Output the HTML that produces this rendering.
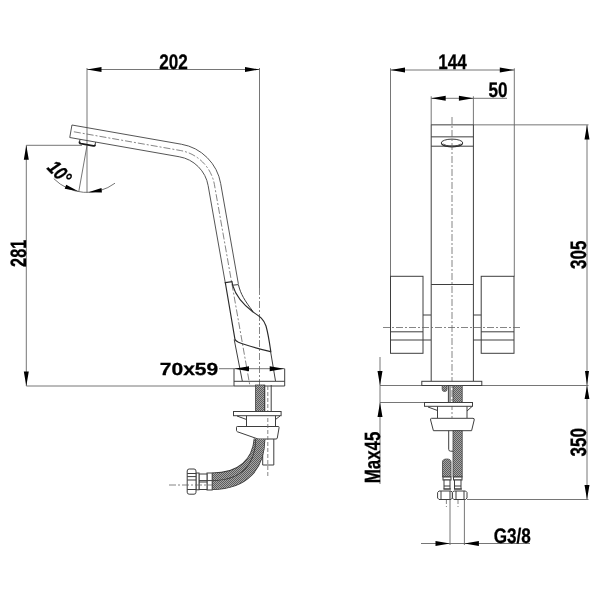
<!DOCTYPE html>
<html><head><meta charset="utf-8">
<style>
html,body{margin:0;padding:0;background:#fff;}
#wrap{width:600px;height:600px;will-change:transform;}
svg{display:block;}
text{font-family:"Liberation Sans",sans-serif;font-weight:bold;fill:#000;stroke:#000;stroke-width:0.3;text-rendering:geometricPrecision;}
.g{fill:none;stroke:#3e3e3e;stroke-width:1;}
.gw{fill:#fff;stroke:#3e3e3e;stroke-width:1;}
.k{fill:none;stroke:#2a2a2a;stroke-width:1.15;}
.d{fill:none;stroke:#666;stroke-width:0.9;}
.c{fill:none;stroke:#666;stroke-width:0.8;stroke-dasharray:7 2 2 2;}
.h{fill:none;stroke:#666;stroke-width:0.8;stroke-dasharray:4 2;}
.s{fill:none;stroke:#4c4c4c;stroke-width:.95;}
.a{fill:#000;stroke:none;}
</style></head><body>
<div id="wrap">
<svg width="600" height="600" viewBox="0 0 600 600">
<defs>
<pattern id="br" width="2" height="2" patternUnits="userSpaceOnUse">
<rect width="2" height="2" fill="#a6a6a6"/><rect width="1" height="1" fill="#5c5c5c"/><rect x="1" y="1" width="1" height="1" fill="#5c5c5c"/>
</pattern>
</defs>
<rect width="600" height="600" fill="#fff"/>

<!-- ================= LEFT: SIDE VIEW ================= -->
<g id="side">
<!-- dimension 202 -->
<path class="d" d="M87 69.5H259.5M87 68V145.5M259.5 68V288"/>
<path class="c" d="M259.5 288V386"/>
<path class="a" d="M87 69.5l14.5-2.5v5zM259.5 69.5l-14.5-2.5v5z"/>
<!-- dimension 281 -->
<path class="d" d="M26.3 145.3H82M26.3 145.3V386M26.3 386H234"/>
<path class="a" d="M26.3 145.3l-2.5 14.5h5zM26.3 386l-2.5-14.5h5z"/>
<!-- angle 10 -->
<path class="d" d="M87 145.5V193M87 145.5L78.7 192"/>
<path class="d" d="M53.8 178.7A47 47 0 0 0 115 183.2"/>
<path class="a" d="M78.3 191.2L66.2 184.7L64.7 188.8zM88.3 192.3L101.5 187.9L101.9 192.6z"/>

<!-- spout tube -->
<path class="s" d="M71.95 125.00 L181.44 144.24 A48.35 48.35 0 0 1 220.66 183.46 L238.37 283.90"/>
<path class="s" d="M69.75 137.50 L179.24 156.75 A35.65 35.65 0 0 1 208.15 185.66 L225.42 283.60"/>
<path class="s" d="M71.95 125L69.75 137.5"/>
<path class="c" d="M73.85 131.78 L180.34 150.49 A42.00 42.00 0 0 1 214.41 184.56 L249.76 385"/>
<!-- aerator -->
<path class="g" d="M80 139.3L79.5 142M95.6 142.1L95.1 144.8"/>
<path d="M79.5 141.6Q79.2 143.3 81 143.7L93.3 145.9Q95 146.2 95.2 144.6" fill="none" stroke="#1a1a1a" stroke-width="1.7"/>

<!-- body below handle -->
<path class="g" d="M234.2 339.5L242.3 381M270.5 351L275.5 381"/>
<!-- handle -->
<path class="g" d="M232.7 285.2L238.4 284.6C240.5 294 245 301 253 311.5"/>
<path class="k" d="M225.3 282.6L232 281.6L232.7 285.4C235.5 295 243 304.5 253 312C259 316 263.5 318.5 266 326C268.5 335 269.5 343 270.8 351.6C262 349.5 247 346 238.5 342.3C236.3 341.2 235.3 340.5 235 339.5Z"/>

<!-- base plate -->
<path class="g" d="M234 368.7V386H284.7V368.7M234 381.3H284.7"/>
<!-- dimension 70x59 -->
<path class="d" d="M219 368.7H284.7"/>
<path class="a" d="M234.5 368.7l14.5-2.5v5zM284.2 368.7l-14.5-2.5v5z"/>

<!-- threaded rod + tube under deck -->
<rect x="255.4" y="385" width="9.3" height="26.5" fill="url(#br)" stroke="#454545" stroke-width="0.8"/>
<path class="g" d="M264.7 385V411.5M271.2 385V411.5"/>
<path class="h" d="M267.8 386V411"/>
<!-- washer -->
<rect class="gw" x="233.5" y="411.5" width="47.6" height="4.2"/>
<path class="g" d="M237 416L246.5 419.5M246.5 415.7V426.5M275.5 415.7V426.5M280 416L275.5 419.5"/>
<!-- clamp -->
<path class="gw" d="M237.3 426.5H278.2Q279.3 426.5 279.1 427.6L277.3 438Q277.1 439 276 439H258L237.5 431.8Q236.5 431.4 236.5 430.3V427.3Q236.5 426.5 237.3 426.5Z"/>
<!-- rigid tube -->
<path class="g" d="M262.7 439V465H273.8V439"/>
<path class="h" d="M267.8 418V478"/>
<!-- braided hoses -->
<path d="M259 439C257 462 242 477.8 212.2 477.8" fill="none" stroke="#333" stroke-width="10.5"/>
<path d="M259 439C257 462 242 477.8 212.2 477.8" fill="none" stroke="url(#br)" stroke-width="9"/>
<path d="M260.4 439C260 466 245 485 212.2 485" fill="none" stroke="#333" stroke-width="10"/>
<path d="M260.4 439C260 466 245 485 212.2 485" fill="none" stroke="url(#br)" stroke-width="8.5"/>
<!-- ferrules / nuts -->
<rect class="gw" x="207" y="473" width="5.2" height="17"/>
<rect class="gw" x="199" y="474" width="8" height="15.5"/>
<rect class="gw" x="196" y="473" width="3" height="16.8"/>
<path class="g" d="M199 480.6H212.2M199 482H207"/>
<rect class="gw" x="187.2" y="469" width="8.8" height="25.2" rx="2"/>
<path class="g" d="M187.2 473.5H196M187.2 476.6H196M187.2 480H196M187.2 489.5H196"/>
<path class="c" d="M169 485H212"/>
</g>

<!-- ================= RIGHT: FRONT VIEW ================= -->
<g id="front">
<!-- dimension 144 -->
<path class="d" d="M390.5 70H514.3M390.5 68.3V276.5M514.3 68.3V276.5"/>
<path class="a" d="M390.5 70l14.5-2.5v5zM514.3 70l-14.5-2.5v5z"/>
<!-- dimension 50 -->
<path class="d" d="M431.2 98.3H507M431.2 96.3V125M473.4 96.3V125"/>
<path class="a" d="M431.2 98.3l14.5-2.5v5zM473.4 98.3l-14.5-2.5v5z"/>
<!-- dimension 305 / 350 -->
<path class="d" d="M473.4 124.85H588.5M587 125V385.5M380 385.5H588.5M587 385.5V499.5M467 499.5H588.5"/>
<path class="a" d="M587 125l-2.5 14.5h5zM587 385.5l-2-14.5h4zM587 385.5l-2.4 13.5h4.8zM587 499.5l-2.5-14.5h5z"/>
<!-- Max45 -->
<path class="d" d="M380 357V484M380 402.5H424.5"/>
<path class="a" d="M380 385.5l-2.5-14.5h5zM380 402.5l-2.5 14.5h5z"/>

<!-- body -->
<path class="g" d="M431.2 124.85V381M473.4 124.85V381M431.2 124.85H473.4M431.2 136.85H473.4M431.2 146.2H473.4M431.2 284.5H473.4"/>
<ellipse class="g" cx="452" cy="143" rx="10.8" ry="3.9"/>
<path class="k" d="M441.4 143.6A10.8 3.9 0 0 0 462.6 143.6"/><path class="g" d="M443.5 144A9 3 0 0 0 460.5 144"/>
<path class="c" d="M452 117V418"/>
<!-- handles -->
<rect class="g" x="390.5" y="276.3" width="32.5" height="77"/>
<rect class="g" x="481.2" y="276.3" width="32.8" height="77"/>
<path class="g" d="M390.5 331.8H423M390.5 340H431M423 315H431M481.2 331.8H514M473.2 340H514M473.2 315H481.2"/>
<path class="c" d="M383 327.5H522"/>
<!-- base plate -->
<rect class="gw" x="421.8" y="381.3" width="60" height="4.2"/>
<!-- under deck -->
<rect x="453" y="385.5" width="9.2" height="17" fill="url(#br)" stroke="#454545" stroke-width="0.8"/>
<path class="g" d="M448.4 385.5V402.5M450 385.5V402.5"/><path d="M442.2 385.5V389.3Q442.2 391.5 444.6 391.5Q447 391.5 447 389.3V385.5Z" fill="url(#br)" stroke="#454545" stroke-width="0.8"/>
<rect class="gw" x="424.5" y="402.5" width="48" height="3.8"/>
<path class="g" d="M428 407L437.5 410.5M437.5 406.3V418.3M467 406.3V418.3M472 406.5L467 411"/>
<path class="gw" d="M431.5 418.3H473Q474.6 418.3 474.2 420L471.6 430.7H433.4L430.6 420Q430.2 418.3 431.5 418.3Z"/>
<rect x="453" y="430.7" width="9.2" height="46.3" fill="url(#br)" stroke="#454545" stroke-width="0.8"/>
<path class="g" d="M448.7 430.7V449.3Q448.7 451.2 450.6 451.2H453"/>
<path d="M442.5 477V462Q442.5 459 446.8 459Q451 459 451 462V477Z" fill="url(#br)" stroke="#454545" stroke-width="0.8"/>
<!-- ferrules -->
<rect class="gw" x="443" y="477" width="8" height="3"/>
<rect class="gw" x="444" y="480" width="6" height="9"/>
<rect class="gw" x="453.5" y="477" width="8.5" height="3"/>
<rect class="gw" x="454.5" y="480" width="6.5" height="9"/>
<path class="g" d="M444 486H450M454.5 486H461M443.5 489H451M454 489H462"/>
<!-- nuts -->
<path class="gw" d="M439 491H451L452.4 492.5V498L451 499.5H439L437.6 498V492.5Z"/>
<path class="gw" d="M453.8 491H465.6L467 492.5V498L465.6 499.5H453.8L452.4 498V492.5Z"/>
<path class="g" d="M441 491V499.5M450 491V499.5M456 491V499.5M464 491V499.5"/>
<!-- G3/8 -->
<path class="d" d="M450 499.5V545M464.4 499.5V545M421 543.5H530"/>
<path class="h" d="M446.4 500V507M458 500V507"/>
<path class="a" d="M450 543.5l-14.5-2.5v5zM464.4 543.5l14.5-2.5v5z"/>
</g>

<!-- ================= TEXT ================= -->
<text transform="translate(173.6 68.7) scale(0.814 1)" font-size="21" text-anchor="middle">202</text>
<text transform="translate(452.5 68.7) scale(0.814 1)" font-size="21" text-anchor="middle">144</text>
<text transform="translate(498 97) scale(0.814 1)" font-size="21" text-anchor="middle">50</text>
<text transform="translate(25.8 253.3) rotate(-90) scale(0.735 1)" font-size="22.2" text-anchor="middle">281</text>
<text transform="translate(586.4 254.7) rotate(-90) scale(0.765 1)" font-size="22.3" text-anchor="middle">305</text>
<text transform="translate(586.4 442.3) rotate(-90) scale(0.765 1)" font-size="22.3" text-anchor="middle">350</text>
<text transform="translate(379.6 457.5) rotate(-90) scale(0.768 1)" font-size="22" text-anchor="middle">Max45</text>
<text transform="translate(512.3 542.5) scale(0.814 1)" font-size="21" text-anchor="middle">G3/8</text>
<text transform="translate(189 374.5) scale(1.2 1)" font-size="17.5" text-anchor="middle">70x59</text>
<text transform="translate(46.2 168.4) rotate(46) scale(0.8 1)" font-size="20" text-anchor="start" font-style="italic">10°</text>
</svg>
</div>
</body></html>
